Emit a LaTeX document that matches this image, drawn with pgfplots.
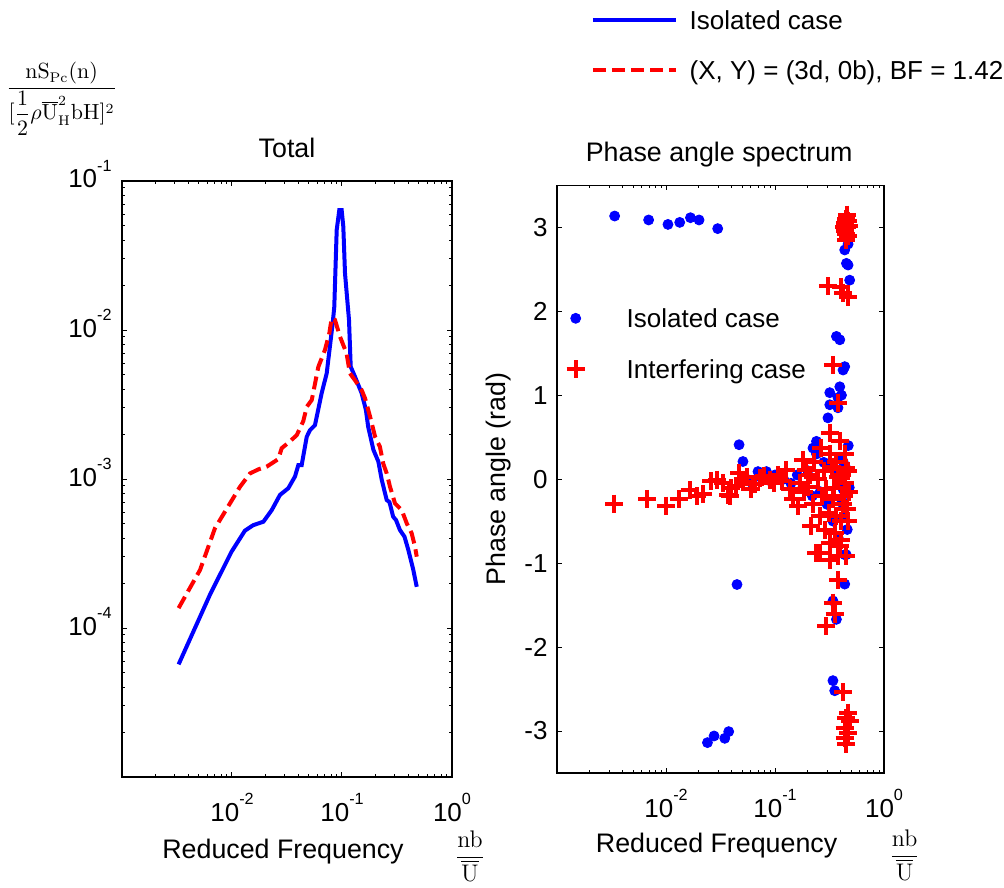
\documentclass[border=0pt]{standalone}
\usepackage{pgfplots}
\pgfplotsset{compat=1.18}
\usepackage[no-math]{fontspec}
\setmainfont{Liberation Sans}
\newcommand\tp[1]{10\raisebox{8.3pt}{\fontsize{8.1}{9}\selectfont #1}}
\definecolor{mblue}{RGB}{0,0,255}
\definecolor{mred}{RGB}{255,0,0}
\pgfplotsset{mystyle/.style={
  scale only axis,
  clip mode=individual,
  axis line style={line width=0.6pt},
  every tick/.style={black, line width=0.5pt},
  major tick length=2.5pt, minor tick length=1.5pt,
  tick align=inside,
  every axis title shift=0pt,
  tick label style={font=\fontsize{13}{15}\selectfont},
  label style={font=\fontsize{13.4}{16}\selectfont},
  title style={font=\fontsize{13.4}{16}\selectfont, at={(axis description cs:0.5,1.040)}, anchor=base},
  xticklabel style={anchor=north, inner sep=0pt, yshift=-8pt},
  legend cell align=left,
}}
\begin{document}
\begin{tikzpicture}
\path[use as bounding box] (0,0) rectangle (502pt,443.5pt);
% ---------------- left axis
\begin{axis}[mystyle, xmode=log, ymode=log,
  width=165pt, height=298pt, at={(61pt,55pt)}, anchor=south west,
  xmin=1e-3, xmax=1, ymin=1e-5, ymax=1e-1,
  xtick={1e-3,1e-2,1e-1,1}, xticklabels={,\tp{-2},\tp{-1},\tp{0}},
  minor xtick={2e-3,3e-3,4e-3,5e-3,6e-3,7e-3,8e-3,9e-3,2e-2,3e-2,4e-2,5e-2,6e-2,7e-2,8e-2,9e-2,2e-1,3e-1,4e-1,5e-1,6e-1,7e-1,8e-1,9e-1},
  ytick={1e-5,1e-4,1e-3,1e-2,1e-1}, yticklabels={,\tp{-4},\tp{-3},\tp{-2},\tp{-1}},
  minor ytick={2e-5,3e-5,4e-5,5e-5,6e-5,7e-5,8e-5,9e-5,2e-4,3e-4,4e-4,5e-4,6e-4,7e-4,8e-4,9e-4,2e-3,3e-3,4e-3,5e-3,6e-3,7e-3,8e-3,9e-3,2e-2,3e-2,4e-2,5e-2,6e-2,7e-2,8e-2,9e-2},
  yticklabel style={anchor=base east, inner sep=0pt, xshift=-5pt, yshift=-3.5pt},
  title={Total},
  xlabel={Reduced Frequency},
  xlabel style={at={(axis description cs:0.488,-0.136)}, anchor=base},
  ylabel={$\displaystyle\frac{\mathrm{nS}_{\mathrm{Pc}}(\mathrm{n})}{[{\displaystyle\frac{1}{2}}\rho\overline{\mathrm{U}}_{\mathrm{H}}^{2}\mathrm{bH}]^{2}}$},
  ylabel style={rotate=-90, at={(axis description cs:-0.183,1.138)}, anchor=center, font=\fontsize{10.5}{13}\selectfont},
  legend style={at={(axis description cs:1.4212,1.2963)}, anchor=north west, draw=none, fill=none,
    inner sep=0pt, outer sep=0pt, font=\fontsize{13}{15}\selectfont,
    row sep=9.4pt, column sep=5.85pt,
    nodes={inner sep=0pt, text height=12.6pt, text depth=3pt}},
  legend image code/.code={\draw[#1] (0pt,0pt) -- (41.5pt,0pt);},
]
\addplot[mblue, line width=2pt] coordinates {
(0.00327,5.7e-5)(0.0063,1.67e-4)(0.0099,3.25e-4)(0.0131,4.5e-4)(0.0156,4.9e-4)
(0.0193,5.17e-4)(0.0230,6.19e-4)(0.0273,7.82e-4)(0.0325,8.67e-4)(0.0374,1.04e-3)
(0.0401,1.24e-3)(0.0430,1.24e-3)(0.0478,1.92e-3)(0.0512,2.13e-3)(0.0568,2.30e-3)
(0.0653,3.76e-3)(0.0726,5.12e-3)(0.0823,0.0111)(0.0851,0.0143)(0.0895,0.0469)
(0.0945,0.0638)(0.0993,0.0638)(0.1028,0.0493)(0.1065,0.0240)(0.1158,0.01167)
(0.120,5.67e-3)(0.1313,4.86e-3)(0.151,3.76e-3)(0.165,2.90e-3)(0.173,2.24e-3)
(0.193,1.57e-3)(0.214,1.31e-3)(0.230,9.84e-4)(0.255,7.23e-4)(0.27,7.0e-4)(0.292,5.58e-4)
(0.31,5.3e-4)(0.336,4.55e-4)(0.37,4.1e-4)(0.401,3.34e-4)(0.445,2.45e-4)(0.478,1.89e-4)
};
\addlegendentry{Isolated case}
\addplot[mred, line width=2pt, dash pattern=on 6.5pt off 3pt] coordinates {
(0.00327,1.36e-4)(0.00512,2.45e-4)(0.0070,4.67e-4)(0.01183,8.87e-4)(0.01459,1.09e-3)
(0.01734,1.16e-3)(0.02066,1.21e-3)(0.02636,1.36e-3)(0.0283,1.61e-3)(0.0325,1.75e-3)
(0.0388,1.97e-3)(0.0445,2.45e-3)(0.0478,3.05e-3)(0.0531,3.39e-3)(0.0610,5.67e-3)
(0.070,7.35e-3)(0.0767,9.5e-3)(0.0806,0.0120)(0.0863,0.0117)(0.0959,9.02e-3)
(0.110,6.98e-3)(0.118,5.12e-3)(0.131,4.61e-3)(0.151,3.95e-3)(0.162,3.48e-3)
(0.180,2.62e-3)(0.200,1.92e-3)(0.221,1.65e-3)(0.237,1.27e-3)(0.255,1.09e-3)
(0.273,8.88e-4)(0.303,6.87e-4)(0.349,6.19e-4)(0.388,5.04e-4)(0.430,4.32e-4)
(0.461,3.52e-4)(0.478,3.01e-4)
};
\addlegendentry{(X, Y) = (3d, 0b), BF = 1.42}
\node[font=\fontsize{13}{15}\selectfont] at (axis description cs:1.0545,-0.1326)
  {$\displaystyle\frac{\mathrm{nb}}{\overline{\mathrm{U}}}$};
\end{axis}
% ---------------- right axis
\begin{axis}[mystyle, xmode=log,
  width=163.5pt, height=293.85pt, at={(278.5pt,57pt)}, anchor=south west,
  xmin=1e-3, xmax=1, ymin=-3.5, ymax=3.5,
  xtick={1e-3,1e-2,1e-1,1}, xticklabels={,\tp{-2},\tp{-1},\tp{0}},
  minor xtick={2e-3,3e-3,4e-3,5e-3,6e-3,7e-3,8e-3,9e-3,2e-2,3e-2,4e-2,5e-2,6e-2,7e-2,8e-2,9e-2,2e-1,3e-1,4e-1,5e-1,6e-1,7e-1,8e-1,9e-1},
  ytick={-3,-2,-1,0,1,2,3}, yticklabels={-3,-2,-1,0,1,2,3},
  yticklabel style={anchor=east, inner sep=0pt, xshift=-4.5pt},
  title={Phase angle spectrum},
  title style={at={(axis description cs:0.496,1.040)}},
  xlabel={Reduced Frequency},
  xlabel style={at={(axis description cs:0.488,-0.136)}, anchor=base},
  ylabel={Phase angle (rad)},
  ylabel style={at={(axis description cs:-0.157,0.5)}, anchor=base},
  legend style={at={(axis description cs:0.0266,0.8002)}, anchor=north west, draw=none, fill=none,
    inner sep=0pt, outer sep=0pt, font=\fontsize{13}{15}\selectfont,
    row sep=9.75pt, column sep=20.5pt,
    nodes={inner sep=0pt, text height=12.6pt, text depth=3pt}},
  legend image code/.code={\path[draw=none,fill=none] (-5pt,-5pt) (5pt,5pt); \draw[#1] plot coordinates {(0pt,0pt)};},
]
\addplot[only marks, mark=*, mark size=2.5pt, mark options={draw=mblue, fill=mblue}] coordinates {
(0.00338,3.134)(0.00693,3.087)(0.01042,3.034)(0.01336,3.058)(0.01676,3.114)(0.0201,3.087)(0.0298,2.984)
(0.024,-3.138)(0.0276,-3.059)(0.0346,-3.087)(0.0376,-3.007)
(0.0448,-1.255)
(0.0468,0.41)(0.0508,0.21)(0.0698,0.09)(0.0834,0.09)
(0.055,0.0)(0.062,-0.05)(0.075,0.02)(0.09,-0.02)(0.1,0.05)(0.12,0.0)(0.14,-0.05)(0.16,0.05)(0.18,-0.1)(0.2,0.1)
(0.22,-0.2)(0.24,0.3)(0.26,-0.15)(0.28,0.2)(0.30,-0.3)(0.32,0.15)(0.34,-0.5)(0.36,0.05)(0.38,-0.7)(0.40,0.25)
(0.42,-0.3)(0.44,0.15)(0.46,-0.6)(0.47,0.4)(0.45,-0.9)(0.48,-0.1)
(0.240,0.45)(0.223,0.37)(0.393,0.26)(0.421,0.21)(0.421,-0.12)(0.407,-0.24)(0.421,-0.46)(0.436,-0.90)
(0.436,2.73)(0.452,2.57)(0.468,2.55)(0.484,2.37)(0.452,2.9)(0.468,2.8)
(0.366,1.70)(0.393,1.66)(0.436,1.34)(0.421,1.30)(0.393,1.10)(0.318,1.03)(0.407,1.00)(0.378,0.97)
(0.318,0.886)(0.378,0.85)(0.306,0.73)
(0.436,-1.25)(0.340,-1.45)(0.366,-1.67)(0.340,-2.40)(0.353,-2.52)
};
\addlegendentry{Isolated case}
\addplot[only marks, mark=+, mark size=4.5pt, mark options={draw=mred, line width=2pt}] coordinates {
(0.00334,-0.291)(0.00675,-0.236)(0.01009,-0.315)(0.0131,-0.236)(0.0165,-0.134)(0.0194,-0.205)(0.0218,-0.177)
(0.0261,-0.026)(0.0296,-0.006)(0.0334,-0.045)(0.0371,-0.184)(0.0398,-0.105)
(0.0333,-0.05)(0.0384,-0.20)(0.0472,0.07)(0.0508,-0.03)(0.0607,-0.12)(0.0723,0.01)(0.089,-0.01)(0.106,0.05)
(0.127,0.11)(0.136,-0.12)(0.146,-0.24)(0.162,-0.32)(0.180,0.23)(0.194,0.11)(0.201,-0.09)(0.215,-0.56)
(0.24,-0.88)(0.257,-0.44)(0.265,0.37)(0.296,-0.12)(0.318,0.55)(0.33,0.15)(0.34,-0.24)(0.353,-0.64)
(0.366,-0.44)(0.378,0.03)(0.393,0.45)(0.407,-0.72)(0.421,-0.30)(0.436,-0.05)(0.452,0.13)(0.468,-0.50)
(0.452,-0.92)(0.378,-0.92)
(0.044,-0.08)(0.055,0.03)(0.066,-0.06)(0.08,0.04)(0.097,-0.04)(0.115,-0.02)(0.17,-0.05)(0.185,-0.15)
(0.21,0.05)(0.225,-0.3)(0.23,0.2)(0.25,0.0)(0.27,-0.2)(0.28,0.1)(0.29,-0.6)(0.31,-0.4)(0.32,0.3)
(0.35,-0.1)(0.36,0.2)(0.39,-0.8)(0.40,-0.5)(0.41,0.05)(0.43,-0.2)(0.44,0.3)(0.46,-0.35)(0.47,0.1)(0.48,-0.15)
(0.318,-0.76)(0.257,-0.88)(0.393,-0.80)(0.318,-0.96)(0.378,-1.20)(0.340,-1.47)(0.353,-1.61)(0.296,-1.75)
(0.378,0.91)(0.340,1.36)(0.306,2.30)(0.407,2.29)(0.468,2.17)(0.421,2.22)
(0.44,3.05)(0.45,3.1)(0.46,3.0)(0.44,2.95)(0.47,2.9)(0.45,2.85)(0.46,3.15)(0.43,3.0)(0.48,3.02)(0.45,2.92)(0.47,3.08)
(0.421,-2.54)(0.468,-2.78)(0.484,-2.88)(0.436,-2.96)(0.468,-3.02)(0.436,-3.08)(0.452,-3.16)(0.45,-2.85)
};
\addlegendentry{Interfering case}
\node[font=\fontsize{13}{15}\selectfont] at (axis description cs:1.063,-0.1395)
  {$\displaystyle\frac{\mathrm{nb}}{\overline{\mathrm{U}}}$};
\end{axis}
\end{tikzpicture}
\end{document}
